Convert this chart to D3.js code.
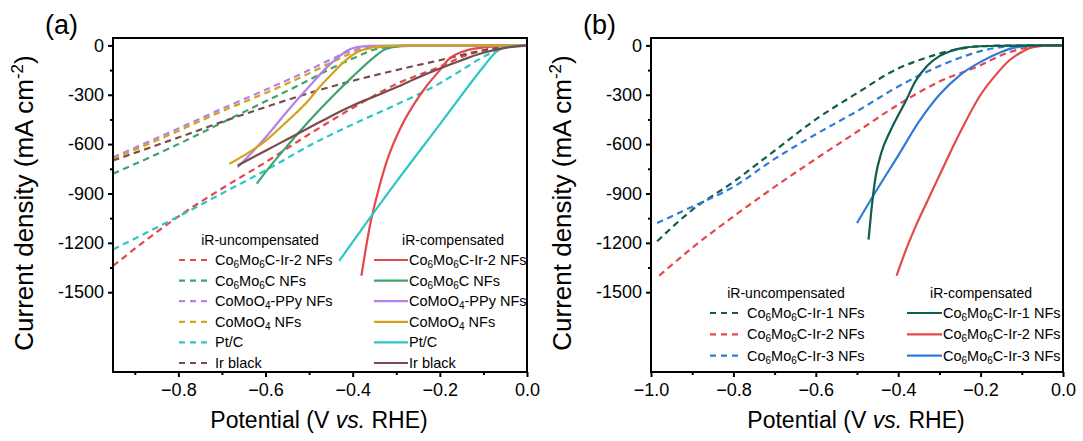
<!DOCTYPE html>
<html>
<head>
<meta charset="utf-8">
<script src="https://cdn.jsdelivr.net/npm/d3@7"></script>
<style>
  html, body { margin: 0; padding: 0; background: #fff; }
  svg { display: block; font-family: "Liberation Sans", Arial, sans-serif; }
</style>
</head>
<body>
<svg id="chart" width="1083" height="441"></svg>
<script>
// ---------- axis ticks ----------
const yTickValues = [0, -300, -600, -900, -1200, -1500];
const yMinorValues = [-150, -450, -750, -1050, -1350];
const xTicksA = [-0.8, -0.6, -0.4, -0.2, 0.0];
const xMinorA = [-0.9, -0.7, -0.5, -0.3, -0.1];
const xTicksB = [-1.0, -0.8, -0.6, -0.4, -0.2, 0.0];
const xMinorB = [-0.9, -0.7, -0.5, -0.3, -0.1];

// ---------- panel (a) polarization curves: [potential V, current mA cm^-2] ----------
const aIr2Solid = [[0,0],[-0.05,-3],[-0.1,-12],[-0.15,-40],[-0.18,-85],[-0.2,-150],[-0.23,-245],[-0.26,-360],[-0.29,-500],[-0.32,-690],[-0.34,-870],[-0.36,-1090],[-0.38,-1400]];
const aC6Solid = [[0,0],[-0.2,-1],[-0.27,-3],[-0.3,-8],[-0.33,-30],[-0.35,-70],[-0.4,-190],[-0.45,-320],[-0.5,-460],[-0.55,-610],[-0.6,-770],[-0.62,-840]];
const aPPySolid = [[0,0],[-0.3,-1],[-0.36,-3],[-0.39,-10],[-0.41,-28],[-0.43,-65],[-0.46,-135],[-0.5,-250],[-0.55,-400],[-0.6,-560],[-0.664,-740]];
const aMoO4Solid = [[0,0],[-0.28,-1],[-0.33,-4],[-0.36,-14],[-0.39,-42],[-0.42,-100],[-0.45,-180],[-0.48,-265],[-0.5,-330],[-0.55,-460],[-0.6,-580],[-0.65,-670],[-0.683,-720]];
const aPtSolid = [[0,-3],[-0.03,-6],[-0.05,-12],[-0.06,-22],[-0.07,-38],[-0.08,-65],[-0.1,-130],[-0.2,-480],[-0.3,-830],[-0.431,-1310]];
const aIrBSolid = [[0,0],[-0.05,-15],[-0.1,-45],[-0.15,-90],[-0.2,-140],[-0.25,-195],[-0.3,-255],[-0.35,-310],[-0.4,-365],[-0.45,-430],[-0.5,-500],[-0.55,-570],[-0.6,-640],[-0.664,-730]];

const aIr2Dash = [[0,0],[-0.05,-5],[-0.1,-30],[-0.15,-70],[-0.2,-130],[-0.3,-235],[-0.4,-380],[-0.5,-540],[-0.6,-710],[-0.7,-870],[-0.8,-1040],[-0.95,-1340]];
const aC6Dash = [[0,0],[-0.25,-1],[-0.3,-6],[-0.35,-25],[-0.4,-80],[-0.45,-140],[-0.5,-210],[-0.6,-340],[-0.7,-470],[-0.8,-600],[-0.95,-780]];
const aPPyDash = [[0,0],[-0.25,-1],[-0.3,-3],[-0.35,-9],[-0.4,-30],[-0.45,-85],[-0.5,-150],[-0.6,-270],[-0.7,-385],[-0.8,-505],[-0.95,-680]];
const aMoO4Dash = [[0,0],[-0.25,-1],[-0.3,-4],[-0.35,-14],[-0.4,-45],[-0.45,-105],[-0.5,-170],[-0.6,-290],[-0.7,-400],[-0.8,-520],[-0.95,-690]];
const aPtDash = [[0,0],[-0.03,-5],[-0.06,-22],[-0.1,-70],[-0.15,-150],[-0.2,-230],[-0.3,-360],[-0.4,-480],[-0.5,-610],[-0.6,-760],[-0.7,-900],[-0.8,-1040],[-0.95,-1240]];
const aIrBDash = [[0,0],[-0.05,-8],[-0.1,-30],[-0.2,-90],[-0.3,-150],[-0.4,-215],[-0.5,-290],[-0.6,-375],[-0.7,-465],[-0.8,-560],[-0.95,-700]];

// ---------- panel (b) polarization curves ----------
const bIr1Solid = [[0,0],[-0.15,-2],[-0.2,-5],[-0.24,-14],[-0.27,-32],[-0.3,-65],[-0.33,-125],[-0.36,-225],[-0.38,-330],[-0.4,-425],[-0.42,-525],[-0.44,-645],[-0.455,-800],[-0.465,-1000],[-0.472,-1180]];
const bIr2Solid = [[0,0],[-0.05,-3],[-0.08,-15],[-0.1,-40],[-0.13,-90],[-0.16,-170],[-0.2,-300],[-0.25,-530],[-0.3,-790],[-0.33,-950],[-0.355,-1085],[-0.38,-1235],[-0.404,-1400]];
const bIr3Solid = [[0,0],[-0.08,-3],[-0.12,-15],[-0.15,-40],[-0.2,-100],[-0.25,-180],[-0.3,-300],[-0.35,-465],[-0.4,-670],[-0.45,-870],[-0.5,-1080]];
const bIr1Dash = [[0,0],[-0.15,-1],[-0.2,-5],[-0.25,-20],[-0.3,-50],[-0.35,-90],[-0.4,-140],[-0.5,-290],[-0.6,-450],[-0.7,-640],[-0.8,-830],[-0.9,-1000],[-0.985,-1190]];
const bIr2Dash = [[0,0],[-0.05,-3],[-0.1,-20],[-0.15,-60],[-0.2,-120],[-0.3,-220],[-0.4,-360],[-0.5,-525],[-0.6,-690],[-0.7,-860],[-0.8,-1040],[-0.9,-1230],[-0.98,-1400]];
const bIr3Dash = [[0,0],[-0.1,-2],[-0.15,-10],[-0.2,-35],[-0.25,-75],[-0.3,-125],[-0.4,-250],[-0.5,-400],[-0.6,-540],[-0.7,-690],[-0.8,-860],[-0.9,-980],[-0.985,-1080]];

// ---------- legend names ----------
const namesA = [["Co","6","Mo","6","C-Ir-2 NFs"],["Co","6","Mo","6","C NFs"],["CoMoO","4","-PPy NFs"],["CoMoO","4"," NFs"],["Pt/C"],["Ir black"]];
const namesB = [["Co","6","Mo","6","C-Ir-1 NFs"],["Co","6","Mo","6","C-Ir-2 NFs"],["Co","6","Mo","6","C-Ir-3 NFs"]];

const colRed = "#e5484b", colGreen = "#3aa56c", colPurple = "#b283e6", colGold = "#d4a21c",
      colCyan = "#2cc7c5", colBrown = "#7a4b4e", colTeal = "#0f5d4b", colBlue = "#2f7bd8";

const svg = d3.select("#chart");
const FONT = "'Liberation Sans', Arial, sans-serif";

function drawPanel(cfg) {
  const { left, right, top, bottom, xDomain, xTicks, xMinor, label, labelX } = cfg;
  const x = d3.scaleLinear().domain(xDomain).range([left, right]);
  const y = d3.scaleLinear().domain([-1985, 45]).range([bottom, top]);
  const g = svg.append("g");

  const clipId = "clip-" + label.replace(/\W/g, "");
  svg.append("clipPath").attr("id", clipId)
    .append("rect").attr("x", left).attr("y", top).attr("width", right - left).attr("height", bottom - top);

  const line = d3.line().x(d => x(d[0])).y(d => y(d[1])).curve(d3.curveMonotoneX);
  const curves = g.append("g").attr("clip-path", `url(#${clipId})`);
  cfg.series.forEach(s => {
    const pts = s.data.slice().sort((a, b) => a[0] - b[0]);
    curves.append("path").attr("d", line(pts)).attr("fill", "none")
      .attr("stroke", s.color).attr("stroke-width", 2.2)
      .attr("stroke-dasharray", s.dash ? "6.5,4.5" : null);
  });

  // frame
  g.append("rect").attr("x", left).attr("y", top).attr("width", right - left).attr("height", bottom - top)
    .attr("fill", "none").attr("stroke", "#000").attr("stroke-width", 2);

  // y axis
  const yAxis = d3.axisLeft(y).tickValues(yTickValues).tickSize(5).tickPadding(4)
    .tickFormat(d => d === 0 ? "0" : "-" + Math.abs(d));
  const ya = g.append("g").attr("transform", `translate(${left},0)`).call(yAxis);
  ya.select(".domain").remove();
  ya.selectAll("line").attr("stroke-width", 2);
  ya.selectAll("text").attr("font-size", 18).attr("font-family", FONT).attr("fill", "#000");
  const yMin = g.append("g").attr("transform", `translate(${left},0)`)
    .call(d3.axisLeft(y).tickValues(yMinorValues).tickSize(3).tickFormat(""));
  yMin.select(".domain").remove();
  yMin.selectAll("line").attr("stroke-width", 2);

  // x axis
  const xAxis = d3.axisBottom(x).tickValues(xTicks).tickSize(5).tickPadding(6)
    .tickFormat(d => (d < 0 ? "\u2212" : "") + Math.abs(d).toFixed(1));
  const xa = g.append("g").attr("transform", `translate(0,${bottom})`).call(xAxis);
  xa.select(".domain").remove();
  xa.selectAll("line").attr("stroke-width", 2);
  xa.selectAll("text").attr("font-size", 18).attr("font-family", FONT).attr("fill", "#000");
  const xMin = g.append("g").attr("transform", `translate(0,${bottom})`)
    .call(d3.axisBottom(x).tickValues(xMinor).tickSize(3).tickFormat(""));
  xMin.select(".domain").remove();
  xMin.selectAll("line").attr("stroke-width", 2);

  // axis titles
  const yt = g.append("text")
    .attr("transform", `translate(${cfg.yTitleX},203) rotate(-90)`)
    .attr("text-anchor", "middle").attr("font-size", 26).attr("font-family", FONT);
  yt.append("tspan").text("Current density (mA cm");
  yt.append("tspan").attr("dy", -10).attr("font-size", 17).text("-2");
  yt.append("tspan").attr("dy", 10).text(")");

  const xt = g.append("text").attr("x", (left + right) / 2 + cfg.xTitleShift).attr("y", 428)
    .attr("text-anchor", "middle").attr("font-size", 23).attr("font-family", FONT);
  xt.append("tspan").text("Potential (V ");
  xt.append("tspan").attr("font-style", "italic").text("vs.");
  xt.append("tspan").text(" RHE)");

  g.append("text").attr("x", labelX).attr("y", 34).attr("font-size", 27).attr("font-family", FONT).text(label);

  // legend
  const L = cfg.legend;
  const lg = g.append("g").attr("font-family", FONT).attr("font-size", 14.5);
  lg.append("text").attr("x", L.hdrL).attr("y", L.hdrY).attr("text-anchor", "middle").attr("font-size", 14).text("iR-uncompensated");
  lg.append("text").attr("x", L.hdrR).attr("y", L.hdrY).attr("text-anchor", "middle").attr("font-size", 14).text("iR-compensated");
  L.names.forEach((parts, i) => {
    const yy = L.row0 + i * L.step;
    lg.append("line").attr("x1", L.swL[0]).attr("x2", L.swL[1]).attr("y1", yy - 5).attr("y2", yy - 5)
      .attr("stroke", L.colors[i]).attr("stroke-width", 2.2).attr("stroke-dasharray", "6,5");
    lg.append("line").attr("x1", L.swR[0]).attr("x2", L.swR[1]).attr("y1", yy - 5).attr("y2", yy - 5)
      .attr("stroke", L.colors[i]).attr("stroke-width", 2.2);
    [L.txtL, L.txtR].forEach(tx => {
      const t = lg.append("text").attr("x", tx).attr("y", yy);
      parts.forEach((p, k) => {
        const isSub = /^\d$/.test(p);
        const ts = t.append("tspan").text(p);
        if (isSub) ts.attr("font-size", 10).attr("dy", 3);
        else if (k > 0 && /^\d$/.test(parts[k - 1])) ts.attr("dy", -3);
      });
    });
  });
}

drawPanel({
  label: "(a)", labelX: 45,
  left: 113, right: 527, top: 38, bottom: 372,
  xDomain: [-0.95, 0], xTicks: xTicksA, xMinor: xMinorA,
  yTitleX: 33, xTitleShift: -1,
  series: [
    { data: aIr2Dash, color: colRed, dash: true },
    { data: aC6Dash, color: colGreen, dash: true },
    { data: aPPyDash, color: colPurple, dash: true },
    { data: aMoO4Dash, color: colGold, dash: true },
    { data: aPtDash, color: colCyan, dash: true },
    { data: aIrBDash, color: colBrown, dash: true },
    { data: aIr2Solid, color: colRed },
    { data: aC6Solid, color: colGreen },
    { data: aPPySolid, color: colPurple },
    { data: aMoO4Solid, color: colGold },
    { data: aPtSolid, color: colCyan },
    { data: aIrBSolid, color: colBrown }
  ],
  legend: {
    names: namesA, colors: [colRed, colGreen, colPurple, colGold, colCyan, colBrown],
    hdrL: 260, hdrR: 453, hdrY: 245, row0: 265, step: 20.6,
    swL: [179, 208], swR: [374, 408], txtL: 215, txtR: 409
  }
});

drawPanel({
  label: "(b)", labelX: 583,
  left: 651, right: 1063, top: 38, bottom: 372,
  xDomain: [-1, 0], xTicks: xTicksB, xMinor: xMinorB,
  yTitleX: 571, xTitleShift: -1,
  series: [
    { data: bIr1Dash, color: colTeal, dash: true },
    { data: bIr2Dash, color: colRed, dash: true },
    { data: bIr3Dash, color: colBlue, dash: true },
    { data: bIr3Solid, color: colBlue },
    { data: bIr2Solid, color: colRed },
    { data: bIr1Solid, color: colTeal }
  ],
  legend: {
    names: namesB, colors: [colTeal, colRed, colBlue],
    hdrL: 786, hdrR: 981, hdrY: 298, row0: 318, step: 21.3,
    swL: [710, 740], swR: [907, 942], txtL: 747, txtR: 943
  }
});
</script>
</body>
</html>
